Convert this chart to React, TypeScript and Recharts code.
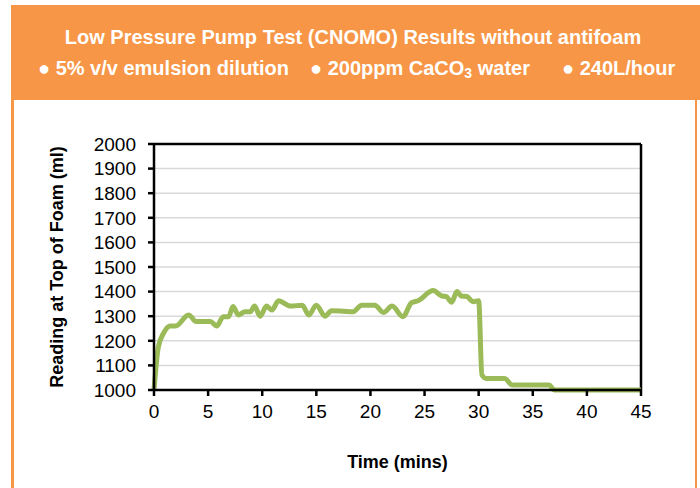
import { CartesianGrid, Line, LineChart, ReferenceLine, XAxis, YAxis } from "recharts"

const minutes = [
  0, 0.4, 0.9, 1.5, 2, 3.2, 3.9, 5.2, 5.8, 6.4, 6.9, 7.3, 7.8, 8.4, 8.9, 9.3, 9.8, 10.4, 10.9,
  11.5, 12.6, 13.7, 14.3, 15, 15.8, 16.4, 17.5, 18.4, 19.2, 20.4, 21.2, 22, 23, 23.8, 24.4,
  25.8, 26.6, 27, 27.5, 28, 28.4, 28.9, 29.5, 30, 30.3, 30.7, 32.4, 33.1, 36.5, 37, 45,
]

const foamMl = [
  1000, 1175, 1232, 1260, 1260, 1305, 1278, 1278, 1260, 1298, 1298, 1339, 1305, 1318, 1318,
  1341, 1300, 1341, 1325, 1363, 1341, 1345, 1305, 1345, 1300, 1322, 1320, 1318, 1345, 1345,
  1315, 1341, 1298, 1355, 1363, 1404, 1382, 1380, 1357, 1400, 1382, 1380, 1359, 1363, 1061,
  1047, 1047, 1020, 1020, 1000, 1000,
]

const xTicks = [0, 5, 10, 15, 20, 25, 30, 35, 40, 45]
const yTicks = [1000, 1100, 1200, 1300, 1400, 1500, 1600, 1700, 1800, 1900, 2000]

const data = minutes.map((t, i) => ({ t, foam: foamMl[i] }))

const orange = "#F79646"
const font = "'Liberation Sans', Arial, sans-serif"

export default function App() {
  return (
    <div
      style={{
        position: "absolute",
        left: 0,
        top: 0,
        width: 700,
        height: 488,
        background: "#fff",
        fontFamily: font,
        overflow: "hidden",
      }}
    >
      {/* header band */}
      <div
        style={{
          position: "absolute",
          left: 12,
          top: 5,
          width: 688,
          height: 95,
          background: orange,
          color: "#fff",
          fontWeight: "bold",
          fontSize: 20,
          lineHeight: "22px",
        }}
      >
        <div style={{ position: "absolute", left: 0, width: 682, top: 21, textAlign: "center" }}>
          Low Pressure Pump Test (CNOMO) Results without antifoam
        </div>
        <div style={{ position: "absolute", left: 26, top: 52 }}>● 5% v/v emulsion dilution</div>
        <div style={{ position: "absolute", left: 298, top: 52 }}>
          ● 200ppm CaCO<span style={{ fontSize: 14, position: "relative", top: 3 }}>3</span> water
        </div>
        <div style={{ position: "absolute", left: 550, top: 52 }}>● 240L/hour</div>
      </div>
      <div style={{ position: "absolute", left: 11, top: 5, width: 3, height: 483, background: orange }} />
      <div style={{ position: "absolute", left: 695, top: 100, width: 2, height: 388, background: orange }} />

      <div style={{ position: "absolute", left: 0, top: 0 }}>
        <LineChart
          width={700}
          height={488}
          data={data}
          margin={{ top: 144, right: 59, bottom: 0, left: 0 }}
        >
          <CartesianGrid horizontal vertical={false} stroke="#D9D9D9" strokeWidth={1.5} />
          <XAxis
            dataKey="t"
            type="number"
            domain={[0, 45]}
            ticks={xTicks}
            interval={0}
            stroke="#000"
            strokeWidth={2.5}
            tickSize={6}
            tickMargin={9}
            tick={{ fill: "#000", fontSize: 19, fontFamily: font }}
            height={98}
            label={{
              value: "Time (mins)",
              position: "insideTop",
              offset: 65,
              fill: "#000",
              fontSize: 18,
              fontWeight: "bold",
              fontFamily: font,
            }}
          />
          <YAxis
            type="number"
            domain={[1000, 2000]}
            ticks={yTicks}
            interval={0}
            width={154}
            stroke="#000"
            strokeWidth={2.5}
            tickSize={6}
            tickMargin={12}
            tick={{ fill: "#000", fontSize: 19, fontFamily: font }}
            label={{
              value: "Reading at Top of Foam (ml)",
              angle: -90,
              position: "insideLeft",
              offset: 57,
              style: { textAnchor: "middle" },
              fill: "#000",
              fontSize: 18,
              fontWeight: "bold",
              fontFamily: font,
            }}
          />
          <ReferenceLine y={2000} stroke="#000" strokeWidth={2.5} ifOverflow="visible" />
          <ReferenceLine x={45} stroke="#000" strokeWidth={2.5} ifOverflow="visible" />
          <Line
            type="monotone"
            dataKey="foam"
            stroke="#9BBB59"
            strokeWidth={5}
            dot={false}
            isAnimationActive={false}
          />
        </LineChart>
      </div>
    </div>
  )
}
